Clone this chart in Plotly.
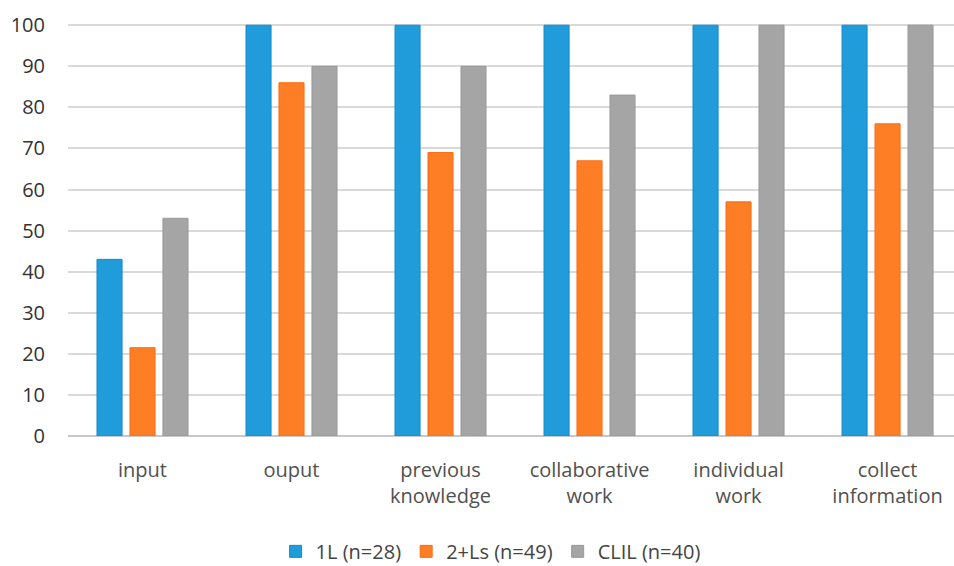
import plotly.graph_objects as go

categories = ["input", "ouput", "previous<br>knowledge", "collaborative<br>work",
              "individual<br>work", "collect<br>information"]
series_names = ["1L (n=28)", "2+Ls (n=49)", "CLIL (n=40)"]
v_1l = [43, 100, 100, 100, 100, 100]
v_2ls = [21.5, 86, 69, 67, 57, 76]
v_clil = [53, 90, 90, 83, 100, 100]
y_ticks = [0, 10, 20, 30, 40, 50, 60, 70, 80, 90, 100]

colors = ["#1f9cd9", "#fd7e24", "#a5a5a5"]
edges = ["#148bd0", "#ff6a10", "#999999"]

fig = go.Figure()
for name, vals, c, e in zip(series_names, [v_1l, v_2ls, v_clil], colors, edges):
    fig.add_trace(go.Bar(x=categories, y=vals, name=name,
                         marker=dict(color=c, line=dict(color=e, width=1))))

fig.update_layout(
    width=954, height=566,
    margin=dict(l=68, r=0, t=24, b=130, autoexpand=False),
    paper_bgcolor="white", plot_bgcolor="white",
    barmode="group", bargap=0.336, bargroupgap=0.24,
    font=dict(family="Open Sans, Noto Sans, sans-serif", size=20, color="#444444"),
    showlegend=True,
    legend=dict(orientation="h", x=0.477, xanchor="center", y=-0.28, yanchor="middle",
                font=dict(size=20, color="#444444"), itemwidth=30, traceorder="normal"),
)
fig.update_xaxes(range=[-0.5, 5.446], showgrid=False, showline=False, ticks="",
                 automargin=False,
                 tickfont=dict(size=20, color="#505050"), ticklabelstandoff=20)
fig.update_yaxes(range=[0, 100.3], tickvals=y_ticks, showgrid=True, gridcolor="#d9d9d9",
                 gridwidth=1.5, zeroline=True, zerolinecolor="#c8c8c8", zerolinewidth=2,
                 showline=False, automargin=False, tickfont=dict(size=20, color="#333333"),
                 ticklabelstandoff=22)

fig.write_html("out.html")
